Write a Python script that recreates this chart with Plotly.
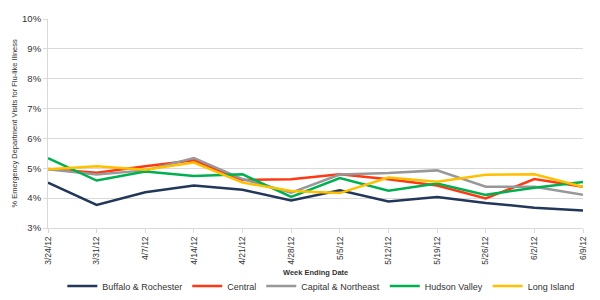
import plotly.graph_objects as go

weeks = ["3/24/12", "3/31/12", "4/7/12", "4/14/12", "4/21/12", "4/28/12",
         "5/5/12", "5/12/12", "5/19/12", "5/26/12", "6/2/12", "6/9/12"]

buffalo_rochester = [4.52, 3.77, 4.20, 4.42, 4.28, 3.92, 4.26, 3.89, 4.04, 3.84, 3.68, 3.59]
central = [4.98, 4.85, 5.07, 5.27, 4.61, 4.63, 4.80, 4.63, 4.42, 3.99, 4.64, 4.38]
capital_northeast = [4.97, 4.79, 4.93, 5.34, 4.64, 4.18, 4.79, 4.84, 4.93, 4.38, 4.38, 4.11]
hudson_valley = [5.34, 4.59, 4.89, 4.74, 4.80, 4.04, 4.67, 4.25, 4.49, 4.11, 4.35, 4.54]
long_island = [4.97, 5.07, 4.95, 5.19, 4.52, 4.24, 4.17, 4.69, 4.55, 4.78, 4.80, 4.38]

series = [
    ("Buffalo & Rochester", buffalo_rochester, "#22375A"),
    ("Central", central, "#FF3814"),
    ("Capital & Northeast", capital_northeast, "#989898"),
    ("Hudson Valley", hudson_valley, "#00B050"),
    ("Long Island", long_island, "#FFC000"),
]

fig = go.Figure()
for name, vals, color in series:
    fig.add_trace(go.Scatter(x=weeks, y=vals, name=name, mode="lines",
                             line=dict(color=color, width=2.5)))

font_family = "Liberation Sans, Arial, sans-serif"

fig.update_layout(
    width=600, height=300,
    margin=dict(l=48, r=17, t=19, b=72, autoexpand=False),
    paper_bgcolor="white", plot_bgcolor="white",
    font=dict(family=font_family, size=9, color="#333333"),
    showlegend=True,
    legend=dict(orientation="h", x=0.51, xanchor="center", y=-0.278, yanchor="middle",
                font=dict(size=9, color="#333333"), tracegroupgap=0,
                itemwidth=30),
    xaxis=dict(type="category", range=[0, 11], showgrid=False, automargin=False,
               showline=True, linecolor="#D9D9D9", linewidth=1,
               ticks="outside", ticklen=4, tickcolor="#D9D9D9",
               tickangle=-90, tickfont=dict(size=8.5, color="#333333")),
    yaxis=dict(range=[3, 10], dtick=1, ticksuffix="%", automargin=False,
               showgrid=True, gridcolor="#D9D9D9", gridwidth=1,
               showline=True, linecolor="#D9D9D9", linewidth=1,
               ticks="outside", ticklen=4, tickcolor="#D9D9D9",
               zeroline=False, tickfont=dict(size=9.5, color="#333333")),
    annotations=[
        dict(text="<b>Week Ending Date</b>", xref="paper", yref="paper",
             x=0.5, y=0, yshift=-44, xanchor="center", yanchor="middle",
             showarrow=False, font=dict(size=7.5, color="#333333")),
        dict(text="% Emergency Department Visits for Flu-like Illness",
             xref="paper", yref="paper", x=0, xshift=-34, y=0.5,
             xanchor="center", yanchor="middle", textangle=-90,
             showarrow=False, font=dict(size=7.5, color="#333333")),
    ],
)

fig.write_html("out.html")
